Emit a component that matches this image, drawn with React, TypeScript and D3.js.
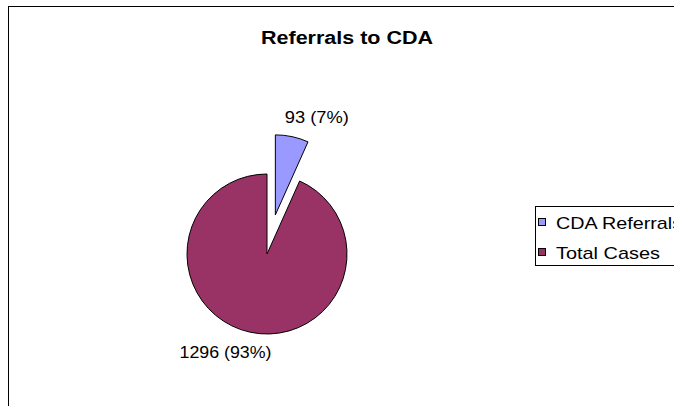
import React from "react";
import * as d3 from "d3";

const categories = ["CDA Referrals", "Total Cases"];
const values = [93, 1296];
const colors = ["#9999FF", "#993366"];
const title = "Referrals to CDA";

const W = 674;
const H = 406;
const FONT = "'Liberation Sans', Arial, Helvetica, sans-serif";

export default function App() {
  const cx = 267;
  const cy = 254;
  const r = 80;
  const explode = 40;
  const total = d3.sum(values);

  const pieGen = d3.pie<number>().sort(null).value((d) => d);
  const arcs = pieGen(values);
  const arcGen = d3.arc<d3.PieArcDatum<number>>().innerRadius(0).outerRadius(r);

  const labelOffsetAngle = (11 * Math.PI) / 180;
  const labelR = r + 26;
  const labelWidths = [64, 92];
  const legendWidths = [124, 102];

  return (
    <svg
      width={W}
      height={H}
      style={{ position: "absolute", left: 0, top: 0, background: "#fff" }}
      fontFamily={FONT}
    >
      <rect x={8.5} y={6.5} width={W + 20} height={H + 20} fill="#fff" stroke="#000" strokeWidth={1} />
      <text x={347} y={44} textAnchor="middle" fontSize={18} fontWeight="bold" textLength={172} lengthAdjust="spacingAndGlyphs">
        {title}
      </text>
      {arcs.map((a, i) => {
        const mid = (a.startAngle + a.endAngle) / 2;
        const ex = i === 0 ? explode : 0;
        const ox = cx + ex * Math.sin(mid);
        const oy = cy - ex * Math.cos(mid);
        const la = mid + labelOffsetAngle;
        const lx = ox + labelR * Math.sin(la);
        const ly = oy - labelR * Math.cos(la);
        const pct = Math.round((values[i] / total) * 100);
        return (
          <g key={i}>
            <path d={arcGen(a) || ""} transform={`translate(${ox},${oy})`} fill={colors[i]} stroke="#000" strokeWidth={1} />
            <text x={lx} y={ly + 6} textAnchor="middle" fontSize={16} textLength={labelWidths[i]} lengthAdjust="spacingAndGlyphs">
              {`${values[i]} (${pct}%)`}
            </text>
          </g>
        );
      })}
      <g>
        <rect x={535.5} y={206.5} width={200} height={59} fill="#fff" stroke="#000" strokeWidth={1} />
        {categories.map((c, i) => (
          <g key={c}>
            <rect x={538.5} y={218.5 + i * 30} width={7} height={7} fill={colors[i]} stroke="#000" strokeWidth={1} />
            <text x={556} y={228.5 + i * 30} fontSize={17} textLength={legendWidths[i] + 2} lengthAdjust="spacingAndGlyphs">
              {c}
            </text>
          </g>
        ))}
      </g>
    </svg>
  );
}
